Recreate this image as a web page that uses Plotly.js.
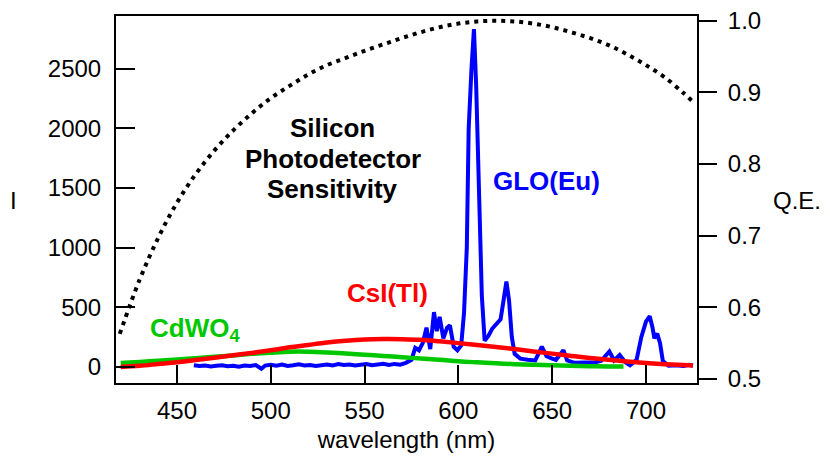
<!DOCTYPE html>
<html>
<head>
<meta charset="utf-8">
<script src="https://cdn.plot.ly/plotly-3.0.1.min.js"></script>
<style>html,body{margin:0;padding:0;background:#fff;}#chart{width:830px;height:459px;}</style>
</head>
<body>
<div id="chart"></div>
<script>
// Silicon photodetector quantum efficiency (right axis)
const qeWavelength = [419.5, 430, 440, 450, 460, 470, 480, 490, 500, 510, 520, 530, 540, 550, 560, 570, 580, 590, 600, 610, 620, 630, 640, 650, 660, 670, 680, 690, 700, 710, 720, 725];
const qeValue =      [0.563, 0.638, 0.697, 0.746, 0.786, 0.819, 0.847, 0.871, 0.892, 0.909, 0.925, 0.938, 0.948, 0.958, 0.967, 0.976, 0.984, 0.991, 0.996, 0.999, 1.000, 0.999, 0.996, 0.991, 0.984, 0.976, 0.966, 0.953, 0.938, 0.921, 0.899, 0.887];

// GLO(Eu) emission
const gloWavelength = [459, 462, 465, 468, 471, 474, 477, 480, 483, 486, 489, 492, 495, 497, 500, 503, 506, 509, 512, 515, 518, 521, 524, 527, 530, 533, 536, 539, 542, 545, 548, 551, 554, 557, 560, 563, 566, 569, 572,
  575, 577, 579, 581, 583, 585, 587, 588.5, 590, 592, 594, 595.5, 597.5, 599.5, 601.5, 603, 604.5, 605.5, 607, 608.3, 609.5, 610.5, 611.5, 612.5, 614, 616, 618, 620.5, 622.5, 624, 625.6, 627, 628.5, 630, 633, 637, 641, 644.5, 647, 650, 652, 656, 658, 662, 668, 673, 676, 680.5, 683, 686, 689, 691.5, 695, 697.5, 700, 702, 703.5, 704.5, 706, 707.5, 709, 712, 716, 720, 723, 725];
const gloIntensity = [15, 8, 12, 5, 10, 14, 6, 11, 3, 13, 9, 16, -15, 12, 18, 10, 20, 8, 14, 22, 12, 17, 9, 15, 20, 13, 24, 16, 21, 12, 18, 25, 15, 22, 27, 18, 26, 20, 35,
  60, 160, 140, 200, 330, 150, 460, 300, 420, 240, 330, 350, 170, 140, 180, 450, 1000, 2000, 2500, 2830, 2350, 1800, 1200, 600, 220, 260, 320, 370, 400, 550, 715, 560, 250, 110, 70, 60, 55, 170, 90, 70, 60, 140, 55, 35, 35, 40, 50, 130, 55, 100, 40, 15, 60, 250, 380, 425, 330, 240, 280, 200, 50, 10, 15, 8, 18, 10];

// CsI(Tl) emission
const csiWavelength = [420, 430, 440, 450, 460, 470, 480, 490, 500, 510, 520, 530, 540, 550, 560, 570, 580, 590, 600, 610, 620, 630, 640, 650, 660, 670, 680, 690, 700, 710, 720, 725];
const csiIntensity =  [0, 10, 25, 40, 58, 78, 98, 118, 140, 165, 185, 205, 220, 230, 234, 233, 228, 215, 200, 185, 168, 150, 130, 112, 93, 76, 60, 46, 34, 24, 16, 12];

// CdWO4 emission
const cdwWavelength = [420, 430, 440, 450, 460, 470, 480, 490, 500, 510, 520, 530, 540, 550, 560, 570, 580, 590, 600, 610, 620, 630, 640, 650, 660, 670, 680, 688];
const cdwIntensity =  [33, 42, 52, 62, 74, 86, 97, 110, 120, 128, 128, 122, 113, 103, 92, 82, 71, 61, 48, 39, 31, 24, 19, 14, 10, 7, 5, 5];

// Axis ticks
const xTicks = [450, 500, 550, 600, 650, 700];
const yTicks = [0, 500, 1000, 1500, 2000, 2500];
const qeTicks = [0.5, 0.6, 0.7, 0.8, 0.9, 1.0];
const qeTickText = ['0.5', '0.6', '0.7', '0.8', '0.9', '1.0'];

// Text labels
const siliconLines = ['Silicon', 'Photodetector', 'Sensitivity'];

const FONT = '"Liberation Sans", Arial, Helvetica, sans-serif';
const BLUE = '#0000ff', RED = '#ff0000', GREEN = '#00c800';
const TICK = 24, LABEL = 26;

const traces = [
  {x: gloWavelength, y: gloIntensity, type: 'scatter', mode: 'lines', line: {color: BLUE, width: 4}, hoverinfo: 'none'},
  {x: cdwWavelength, y: cdwIntensity, type: 'scatter', mode: 'lines', line: {color: GREEN, width: 4.5, shape: 'spline'}, hoverinfo: 'none'},
  {x: csiWavelength, y: csiIntensity, type: 'scatter', mode: 'lines', line: {color: RED, width: 4.5, shape: 'spline'}, hoverinfo: 'none'},
  {x: qeWavelength, y: qeValue, yaxis: 'y2', type: 'scatter', mode: 'lines', line: {color: '#000', width: 4, dash: '4px,5px', shape: 'spline'}, hoverinfo: 'none'}
];

const siliconY = [2005, 1740, 1492];
const annotations = [
  {xref: 'paper', yref: 'paper', x: (13 - 116) / 581, y: (383 - 200) / 367, text: 'I', showarrow: false, font: {family: FONT, size: TICK}, xanchor: 'center', yanchor: 'middle'},
  {xref: 'paper', yref: 'paper', x: (797 - 116) / 581, y: (383 - 200) / 367, text: 'Q.E.', showarrow: false, font: {family: FONT, size: TICK}, xanchor: 'center', yanchor: 'middle'},
  {xref: 'x', yref: 'y', x: 647, y: 1554, text: '<b>GLO(Eu)</b>', showarrow: false, font: {family: FONT, size: LABEL, color: BLUE}, xanchor: 'center', yanchor: 'middle'},
  {xref: 'x', yref: 'y', x: 562, y: 622, text: '<b>CsI(Tl)</b>', showarrow: false, font: {family: FONT, size: LABEL, color: RED}, xanchor: 'center', yanchor: 'middle'},
  {xref: 'x', yref: 'y', x: 434.5, y: 310, text: '<b>CdWO<sub>4</sub></b>', showarrow: false, font: {family: FONT, size: LABEL, color: GREEN}, xanchor: 'left', yanchor: 'middle'}
];
siliconLines.forEach((t, i) => annotations.push({
  xref: 'x', yref: 'y', x: 533, y: siliconY[i], text: '<b>' + t + '</b>', showarrow: false,
  font: {family: FONT, size: LABEL, color: '#000'}, xanchor: 'center', yanchor: 'middle'
}));

const layout = {
  width: 830, height: 459,
  margin: {l: 116, r: 133, t: 16, b: 76},
  paper_bgcolor: '#fff', plot_bgcolor: '#fff',
  showlegend: false,
  font: {family: FONT, size: TICK, color: '#000'},
  xaxis: {
    range: [417.5, 727.2], tickvals: xTicks, ticks: 'inside', ticklen: 18, tickwidth: 2, tickcolor: '#000',
    showline: true, linewidth: 2, linecolor: '#000', mirror: true, showgrid: false, zeroline: false,
    tickfont: {family: FONT, size: TICK}, ticklabelstandoff: 5,
    title: {text: 'wavelength (nm)', font: {family: FONT, size: TICK}, standoff: 8}
  },
  yaxis: {
    range: [-134, 2940], tickvals: yTicks, ticks: 'inside', ticklen: 19, tickwidth: 2, tickcolor: '#000',
    showline: true, linewidth: 2, linecolor: '#000', mirror: true, showgrid: false, zeroline: false,
    tickfont: {family: FONT, size: TICK}, ticklabelstandoff: 8
  },
  yaxis2: {
    overlaying: 'y', side: 'right', range: [0.4944, 1.0066], tickvals: qeTicks, ticktext: qeTickText,
    ticks: 'outside', ticklen: 18, tickwidth: 2, tickcolor: '#000',
    showline: true, linewidth: 2, linecolor: '#000', showgrid: false, zeroline: false,
    tickfont: {family: FONT, size: TICK}, ticklabelstandoff: 6
  },
  annotations: annotations
};

Plotly.newPlot('chart', traces, layout, {staticPlot: true, displayModeBar: false});
</script>
</body>
</html>
